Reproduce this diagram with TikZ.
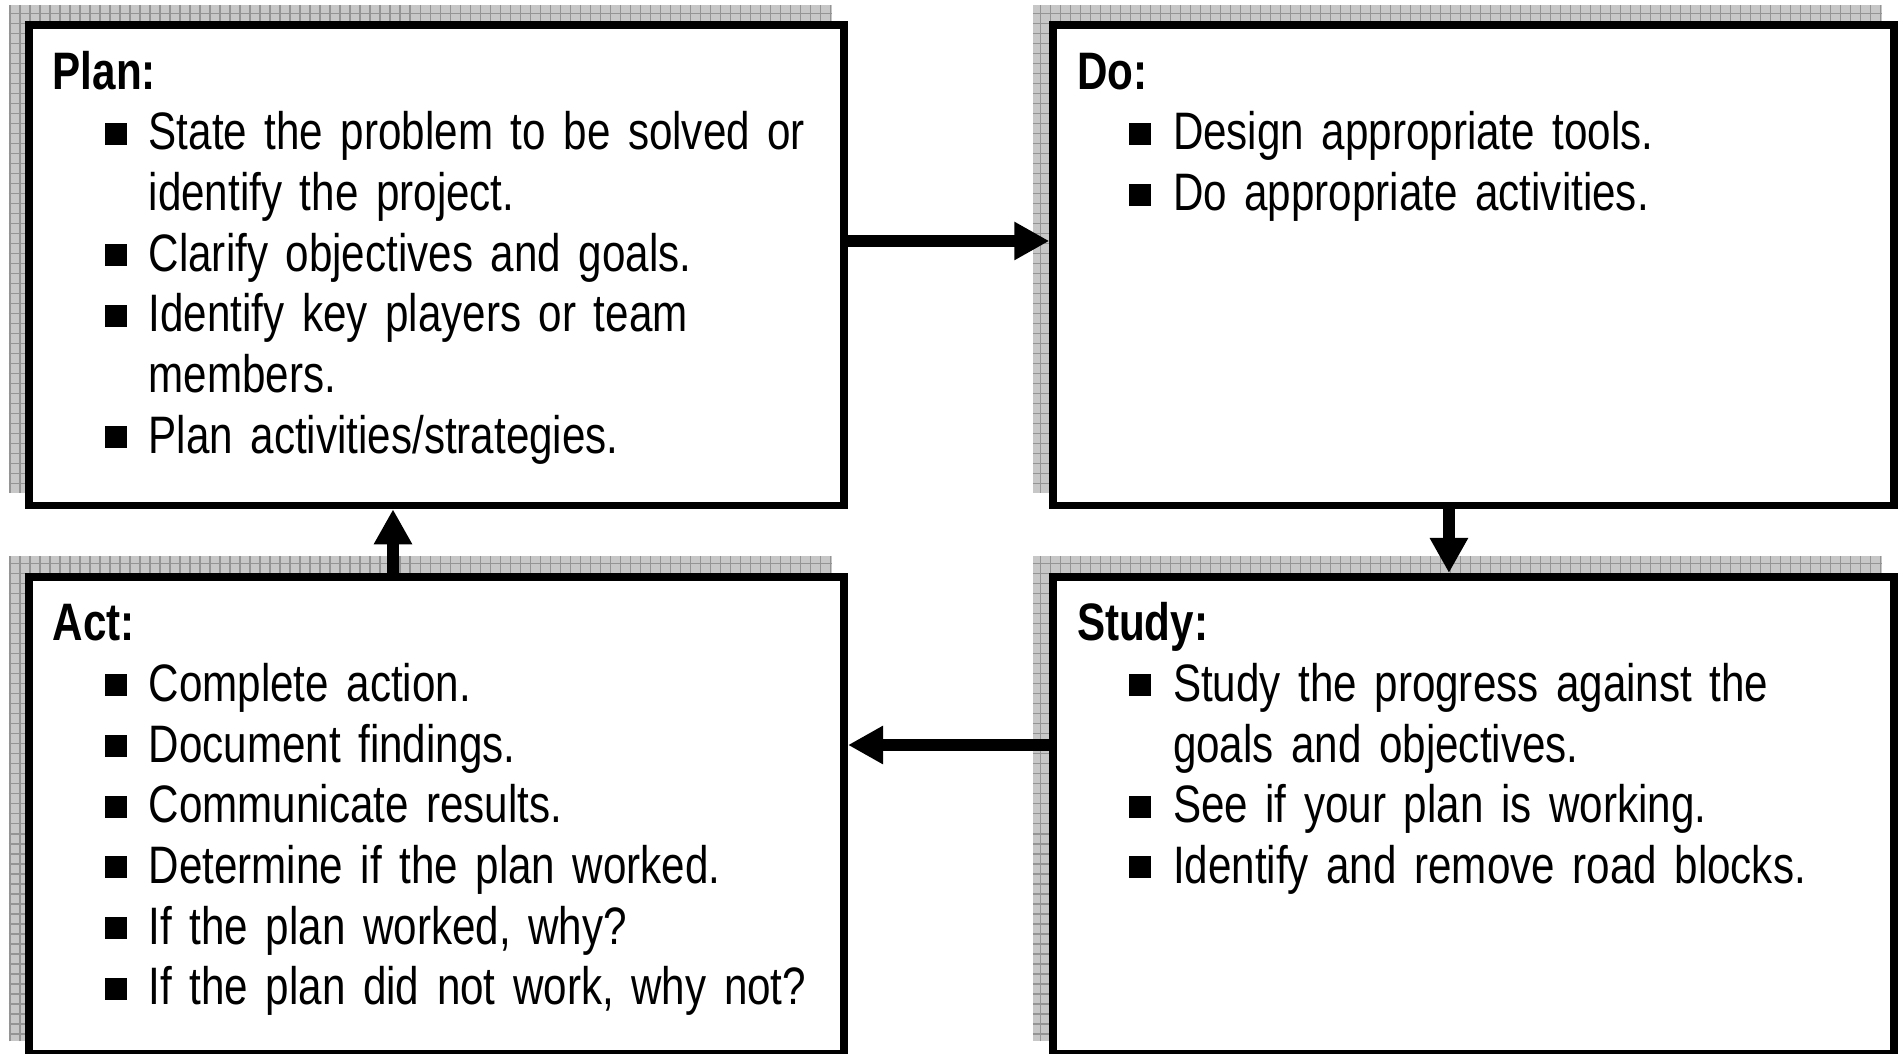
\documentclass[tikz,border=0pt]{standalone}
\usepackage{fontspec}
\setmainfont[FakeStretch=0.80, WordSpace=0.8]{Liberation Sans}
\usetikzlibrary{positioning}
\usetikzlibrary{arrows.meta}
\usetikzlibrary{backgrounds}

\newcommand{\pitem}[1]{\par\hangindent=0.96cm\hangafter=0\noindent\llap{\makebox[0.44cm][l]{\rule[0.05cm]{0.22cm}{0.22cm}}}#1\par}
\newcommand{\phead}[1]{\noindent\rule{0pt}{0.42cm}\textbf{#1}\par}

\tikzset{
    box/.style={draw, line width=0.077cm, fill=white, inner sep=0pt, minimum width=8.153cm, minimum height=4.801cm},
    boxtext/.style={anchor=north west, inner sep=0pt, text width=7.9cm, font=\fontsize{15pt}{17.27pt}\selectfont\raggedright},
    shadowbox/.style={fill=black!22},
    shadowgrid/.style={draw=black!42, line width=0.3pt},
    arr/.style={line width=0.12cm, -{Triangle[length=0.35cm,width=0.36cm]}}
}

\begin{document}
\begin{tikzpicture}
        \useasboundingbox (0,0) rectangle (19.04,10.54);

        % Riquadri
        \node[box, anchor=north west] (plan) at (0.25,10.325) {};
        \node[box, minimum width=8.41cm, right=2.013cm of plan] (do) {};
        \node[box, minimum height=4.7715cm, below=0.637cm of plan] (act) {};
        \node[box, minimum width=8.41cm, minimum height=4.7715cm, right=2.013cm of act] (study) {};

        % Ombre
        \begin{scope}[on background layer]
            \foreach \b in {plan,do,study,act}{
                \fill[shadowbox] ([shift={(-0.165,0.165)}]\b.north west) rectangle ([shift={(-0.165,0.165)}]\b.south east);
                \draw[shadowgrid, step=0.1] ([shift={(-0.165,0.165)}]\b.north west) grid ([shift={(-0.165,0.165)}]\b.south east);
            }
        \end{scope}

        % Testi
        \node[boxtext] (plantext) at ([xshift=0.27cm,yshift=-0.25cm]plan.north west) {\phead{Plan:}
            \pitem{State the problem to be solved or\newline identify the project.}
            \pitem{Clarify objectives and goals.}
            \pitem{Identify key players or team\newline members.}
            \pitem{Plan activities/strategies.}};
        \node[boxtext] (dotext) at ([xshift=0.27cm,yshift=-0.25cm]do.north west) {\phead{Do:}
            \pitem{Design appropriate tools.}
            \pitem{Do appropriate activities.}};
        \node[boxtext] (studytext) at ([xshift=0.27cm,yshift=-0.25cm]study.north west) {\phead{Study:}
            \pitem{Study the progress against the\newline goals and objectives.}
            \pitem{See if your plan is working.}
            \pitem{Identify and remove road blocks.}};
        \node[boxtext] (acttext) at ([xshift=0.27cm,yshift=-0.25cm]act.north west) {\phead{Act:}
            \pitem{Complete action.}
            \pitem{Document findings.}
            \pitem{Communicate results.}
            \pitem{Determine if the plan worked.}
            \pitem{If the plan worked, why?}
            \pitem{If the plan did not work, why not?}};

        % Frecce
        \draw[arr] ([yshift=0.244cm]plan.east) -- ([yshift=0.244cm]do.west);
        \draw[arr] ([xshift=-0.247cm]do.south) -- ([xshift=-0.247cm]study.north);
        \draw[arr] ([yshift=0.704cm]study.west) -- ([yshift=0.704cm]act.east);
        \draw[arr] ([xshift=-0.435cm]act.north) -- ([xshift=-0.435cm]plan.south);
    \end{tikzpicture}
\end{document}
